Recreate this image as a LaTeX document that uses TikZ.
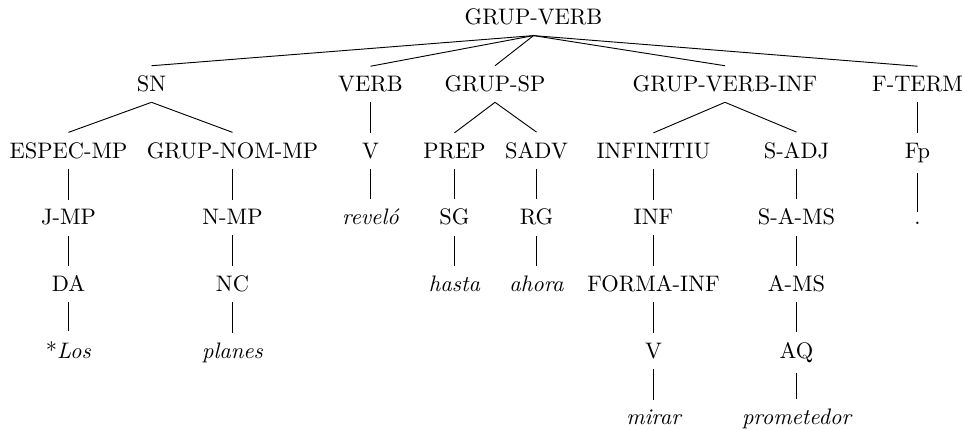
\documentclass[tikz,border=0pt]{standalone}
\usetikzlibrary{positioning}
\tikzset{
  cat/.style={anchor=base, inner sep=4.4pt, font=\fontsize{10.2pt}{12pt}\selectfont},
  word/.style={cat, font=\fontsize{10.2pt}{12pt}\selectfont\itshape},
  edge/.style={draw, line width=0.42pt}
}
\begin{document}
\begin{tikzpicture}[x=0.4545pt, y=-0.4545pt]
  \useasboundingbox (0,0) rectangle (964,430);
  % level baselines
  \def\la{25}\def\lb{91.7}\def\lc{158.3}\def\ld{225}\def\le{291.7}\def\lf{358.3}\def\lg{425}
  % root
  \node[cat] (gv) at (533.5,\la) {GRUP-VERB};
  % first level
  \node[cat] (sn)   at (151.5,\lb) {SN};
  \node[cat] (verb) at (370.5,\lb) {VERB};
  \node[cat] (gsp)  at (495,\lb) {GRUP-SP};
  \node[cat] (gvi)  at (725,\lb) {GRUP-VERB-INF};
  \node[cat] (ft)   at (917.5,\lb) {F-TERM};
  % second level
  \node[cat] (esp)  at (68.5,\lc) {ESPEC-MP};
  \node[cat] (gnm)  at (232.5,\lc) {GRUP-NOM-MP};
  \node[cat] (v1)   at (370.5,\lc) {V};
  \node[cat] (prep) at (454.5,\lc) {PREP};
  \node[cat] (sadv) at (536.5,\lc) {SADV};
  \node[cat] (infn) at (653.5,\lc) {INFINITIU};
  \node[cat] (sadj) at (796.5,\lc) {S-ADJ};
  \node[cat] (fp)   at (917.5,\lc) {Fp};
  % third level
  \node[cat] (jmp)  at (68.5,\ld) {J-MP};
  \node[cat] (nmp)  at (232.5,\ld) {N-MP};
  \node[word] (rev) at (370.5,\ld) {reveló};
  \node[cat] (sg)   at (454.5,\ld) {SG};
  \node[cat] (rg)   at (536.5,\ld) {RG};
  \node[cat] (inf)  at (653.5,\ld) {INF};
  \node[cat] (sams) at (796.5,\ld) {S-A-MS};
  \node[cat] (dot)  at (917.5,\ld) {.};
  % fourth level
  \node[cat] (da)   at (68.5,\le) {DA};
  \node[cat] (nc)   at (232.5,\le) {NC};
  \node[word] (hasta) at (454.5,\le) {hasta};
  \node[word] (ahora) at (536.5,\le) {ahora};
  \node[cat] (finf) at (653.5,\le) {FORMA-INF};
  \node[cat] (ams)  at (796.5,\le) {A-MS};
  % fifth level
  \node[cat] (los)  at (68.5,\lf) {*\textit{Los}};
  \node[word] (planes) at (232.5,\lf) {planes};
  \node[cat] (v2)   at (653.5,\lf) {V};
  \node[cat] (aq)   at (796.5,\lf) {AQ};
  % sixth level
  \node[word] (mirar) at (653.5,\lg) {mirar};
  \node[word] (prom)  at (796.5,\lg) {prometedor};
  % branches
  \foreach \p/\c in {gv/sn, gv/verb, gv/gsp, gv/gvi, gv/ft,
                     sn/esp, sn/gnm, verb/v1, gsp/prep, gsp/sadv,
                     gvi/infn, gvi/sadj, ft/fp,
                     esp/jmp, gnm/nmp, v1/rev, prep/sg, sadv/rg,
                     infn/inf, sadj/sams, fp/dot,
                     jmp/da, nmp/nc, sg/hasta, rg/ahora, inf/finf, sams/ams,
                     da/los, nc/planes, finf/v2, ams/aq,
                     v2/mirar, aq/prom}
    \draw[edge] (\p.south) -- (\c.north);
\end{tikzpicture}
\end{document}
